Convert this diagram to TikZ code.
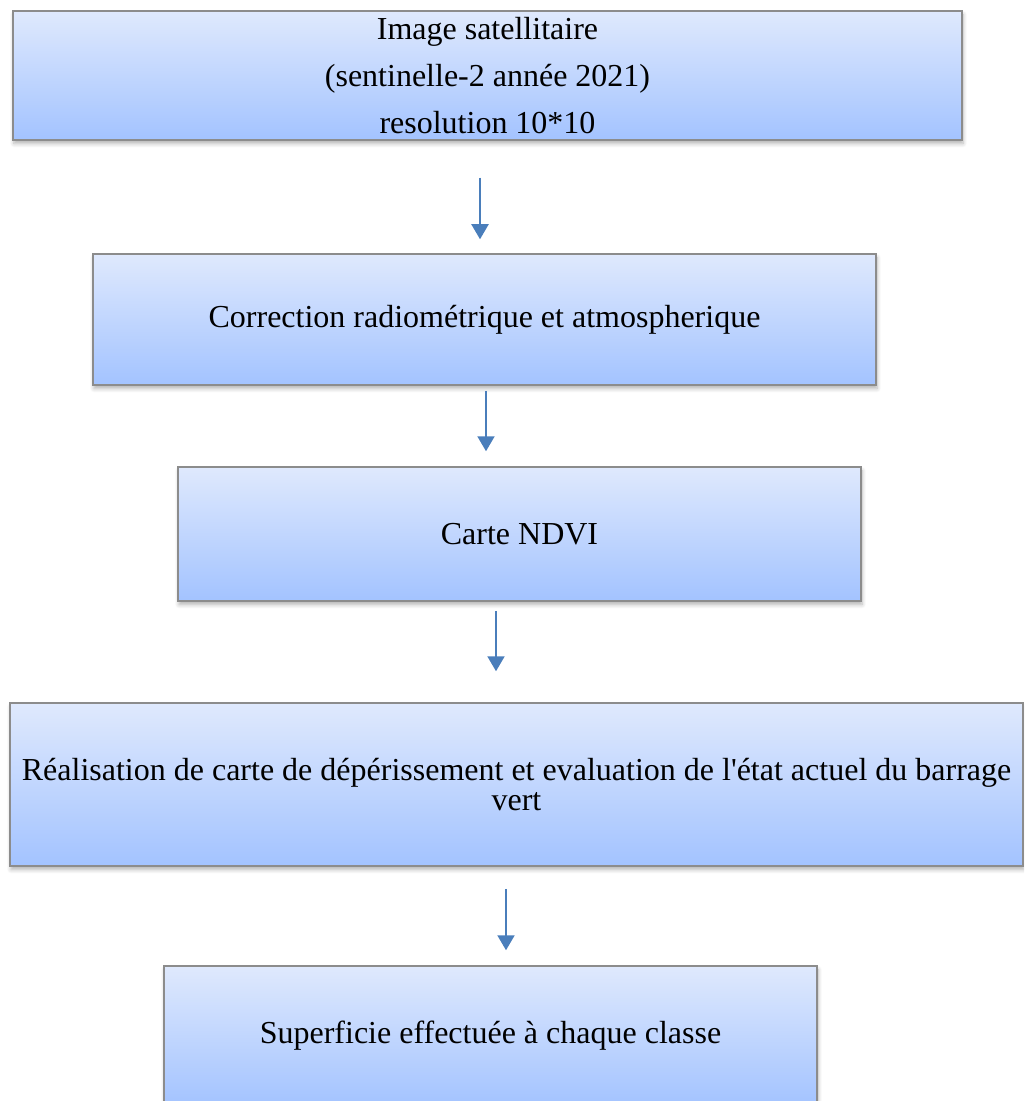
\documentclass[tikz,border=0pt]{standalone}
\usepackage{fontspec}
\setmainfont{Liberation Serif}[Ligatures=TeXOff]
\usetikzlibrary{arrows.meta,positioning,calc,shadows.blur}
\definecolor{flTop}{HTML}{DFE9FD}
\definecolor{flBottom}{HTML}{A3C3FF}
\definecolor{flLine}{HTML}{8C8C8C}
\definecolor{flArrow}{HTML}{4A7EBB}
\tikzset{
  arr/.style={-{Triangle[length=7.5pt,width=8.5pt]}, line width=1pt, draw=flArrow},
  stepbox/.style={draw=flLine, line width=0.75pt, top color=flTop, bottom color=flBottom, align=center, inner sep=0pt, font=\fontsize{16}{15}\selectfont, blur shadow={shadow xshift=0.5pt, shadow yshift=-1.8pt, shadow blur radius=2pt, shadow blur steps=6, shadow opacity=30}}
}

\begin{document}
\begin{tikzpicture}[x=0.5pt,y=-0.5pt]
  \clip (0,0) rectangle (1024,1101);
  \node[stepbox, font=\fontsize{16}{23.5}\selectfont, minimum width=474.5pt, minimum height=64.5pt] (img) at (487.5,75.5) {Image satellitaire\\(sentinelle-2 année 2021)\\resolution 10*10};
  \node[stepbox, minimum width=391.5pt, minimum height=65.5pt] (corr) at (484.5,319.5) {Correction radiométrique et atmospherique};
  \node[stepbox, minimum width=341.5pt, minimum height=67pt] (ndvi) at (519.5,534) {Carte NDVI};
  \node[stepbox, minimum width=506.5pt, minimum height=81.5pt] (deper) at (516.5,784.5) {Réalisation de carte de dépérissement et evaluation de l'état actuel du barrage\\vert};
  \node[stepbox, minimum width=326.5pt, minimum height=70pt] (superf) at (490.5,1036) {Superficie effectuée à chaque classe};
  \draw[arr] ($(img.south)+(-7.5,37)$) -- ($(corr.north)+(-4.5,-14)$);
  \draw[arr] ($(corr.south)+(1.5,5)$) -- ($(ndvi.north)+(-33.5,-15)$);
  \draw[arr] ($(ndvi.south)+(-23.5,9)$) -- ($(deper.north)+(-20.5,-31)$);
  \draw[arr] ($(deper.south)+(-10.5,22)$) -- ($(superf.north)+(15.5,-15)$);
\end{tikzpicture}
\end{document}
